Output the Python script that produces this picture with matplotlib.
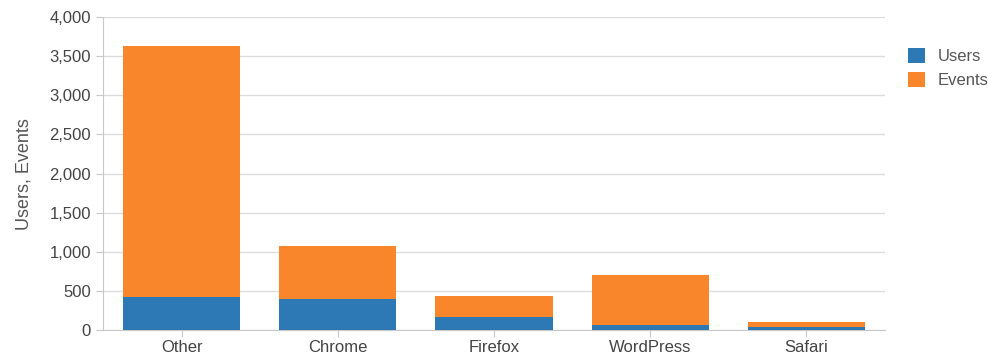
import matplotlib.pyplot as plt
from matplotlib.ticker import FuncFormatter

categories = ["Other", "Chrome", "Firefox", "WordPress", "Safari"]
users = [422, 392, 166, 64, 43]
events = [3207, 681, 268, 635, 64]  # stacked on top of users

plt.rcParams['font.family'] = ['Liberation Sans', 'DejaVu Sans']

fig = plt.figure(figsize=(9.88, 3.55), dpi=100)
ax = fig.add_axes([0.104, 0.07, 0.792, 0.882])

x = range(len(categories))
ax.bar(x, users, width=0.75, color="#2c79b5", label="Users", zorder=3)
ax.bar(x, events, width=0.75, bottom=users, color="#f9862a", label="Events", zorder=3)

ax.set_ylim(0, 4000)
ax.set_xlim(-0.506, 4.506)
ax.set_yticks(range(0, 4001, 500))
ax.yaxis.set_major_formatter(FuncFormatter(lambda v, p: f"{int(v):,}"))
ax.set_xticks(list(x))
ax.set_xticklabels(categories)
ax.grid(axis="y", color="#dcdcdc", lw=1, zorder=0)

for s in ["top", "right"]:
    ax.spines[s].set_visible(False)
for s in ["left", "bottom"]:
    ax.spines[s].set_color("#c8c8c8")
ax.tick_params(axis="both", colors="#c8c8c8", labelcolor="#444444", labelsize=12, length=5)
ax.tick_params(axis="x", pad=2)
ax.set_ylabel("Users, Events", fontsize=13, color="#555555", labelpad=12)

ax.legend(loc="upper left", bbox_to_anchor=(1.01, 0.95), frameon=False,
          fontsize=12, handlelength=1.0, handleheight=1.0, labelspacing=0.5,
          labelcolor="#555555")

fig.savefig("out.png", dpi=100)
